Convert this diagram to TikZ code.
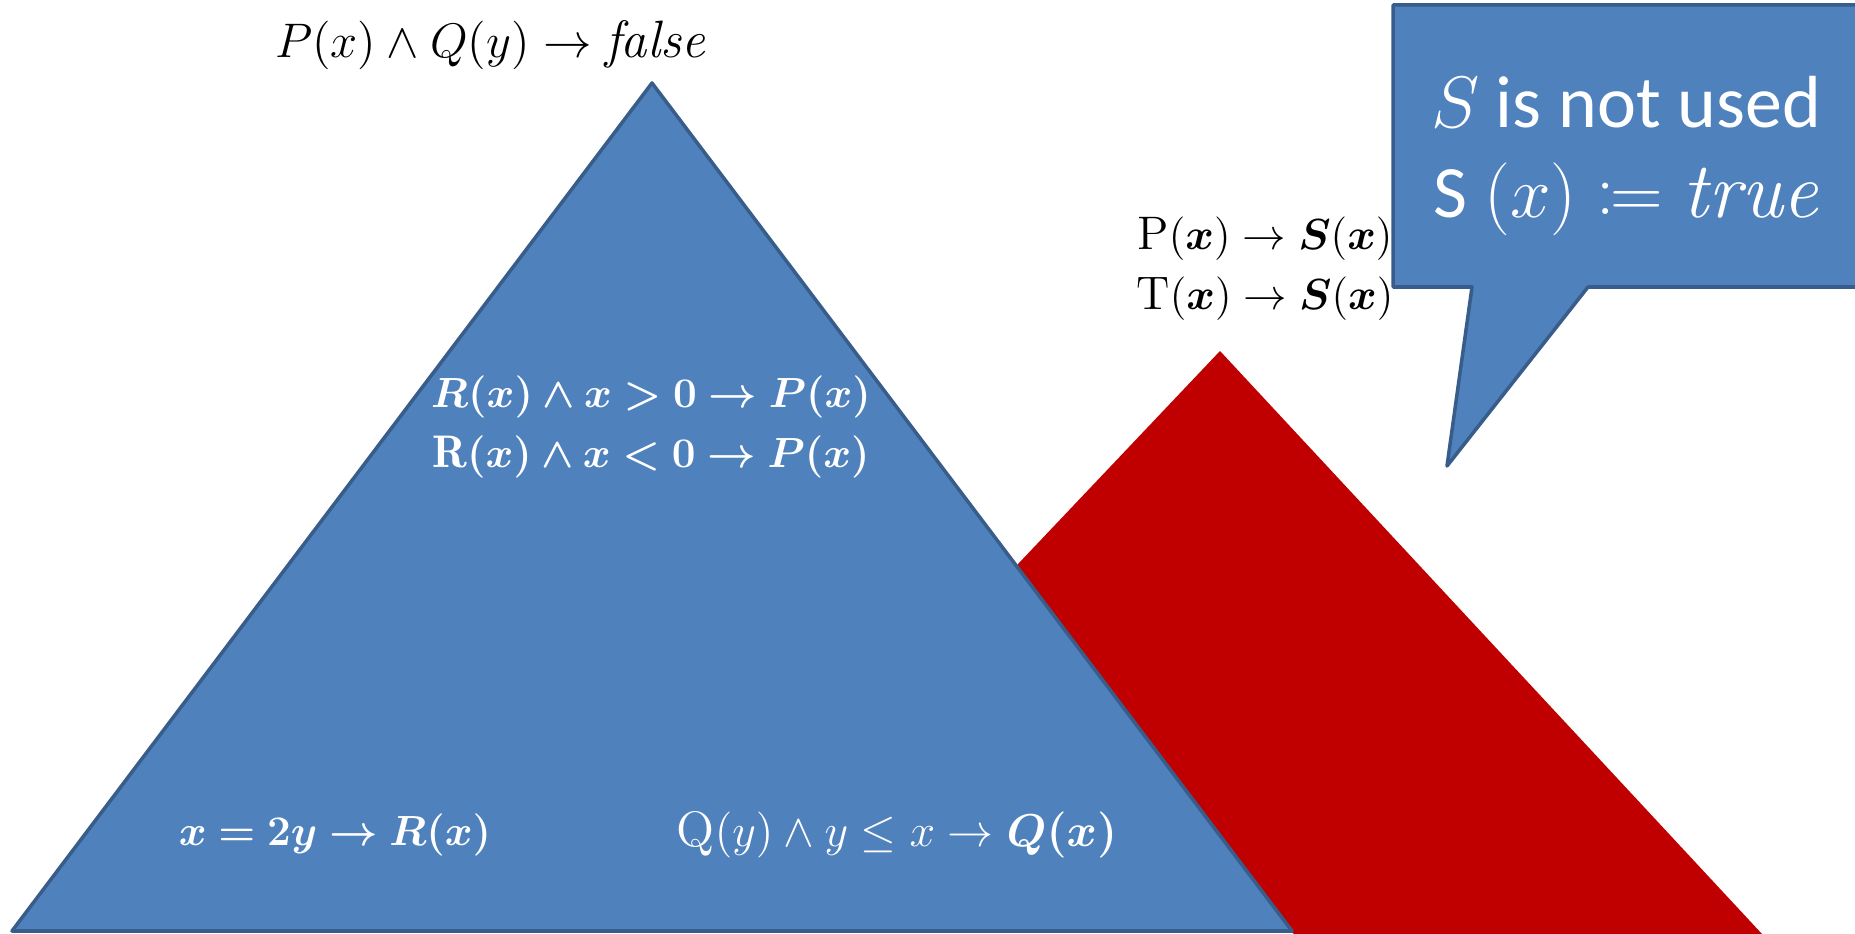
\documentclass[tikz,border=0pt]{standalone}
\usepackage{amsmath,amssymb,mathtools,bm}
\usepackage{fontspec}
\newfontfamily\calibri{Carlito}
\usepackage{xcolor}
\usepackage{tikz}
\usetikzlibrary{positioning}

\definecolor{officeblue}{HTML}{4F81BD}
\definecolor{officeedge}{HTML}{385D8A}
\definecolor{darkred}{HTML}{C00000}

\begin{document}
\begin{tikzpicture}[
    x=0.01cm, y=-0.01cm,
    shapeblue/.style={fill=officeblue, draw=officeedge, line width=1pt, line join=round},
    rule/.style={font=\fontsize{13}{16}\selectfont, align=center, inner sep=0pt},
    rulewhite/.style={rule, text=white},
    calltext/.style={font=\calibri\fontsize{21}{25.5}\selectfont, text=white, align=center, inner sep=0pt},
]
\clip (0,0) rectangle (1855,934);

% Red triangle behind
\fill[darkred] (1220,351) -- (1762,934) -- (1294,934) -- (1290,931) -- (670,931) -- cycle;

% Blue triangle
\draw[shapeblue] (652,83) -- (1292,931) -- (12,931) -- cycle;

% Callout
\draw[shapeblue] (1393,5) -- (1880,5) -- (1880,287) -- (1588,287) -- (1447,466) -- (1472,287) -- (1393,287) -- cycle;

% Labels
\node[rule] (goal) at (490,45) {\scalebox{1.15}{$P(x)\land Q(y)\to \mathit{false}$}};
\node[rule] (srules) at (1265,269) {\scalebox{1.03}{$\mathrm{P}(\bm{x})\to\bm{S}(\bm{x})$}\\[1pt]\scalebox{1.03}{$\mathrm{T}(\bm{x})\to\bm{S}(\bm{x})$}};
\node[rulewhite] (prules) at (651,427) {$\bm{R(x)\land x>0\to P(x)}$\\[1pt]$\bm{\mathrm{R}(x)\land x<0\to P(x)}$};
\node[rulewhite] (rrule) at (335,835) {$\bm{x=2y\to R(x)}$};
\node[rulewhite] (qrule) at (897,835) {\scalebox{1.09}{$\mathrm{Q}(y)\land y\leq x\to\bm{Q(x)}$}};
\node[calltext] (note) at (1626,156) {$S$ is not used\\S {\fontsize{22.5}{25.5}\selectfont$(x)\coloneqq \mathit{true}$}};

\end{tikzpicture}
\end{document}
